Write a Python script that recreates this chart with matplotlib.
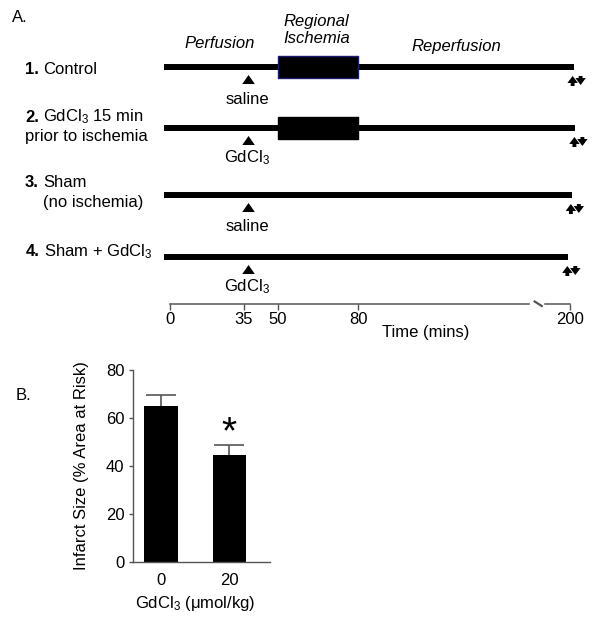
import numpy as np
import matplotlib
matplotlib.use("Agg")
import matplotlib.pyplot as plt

# Arial-like text everywhere, also inside the GdCl$_3$ subscripts
plt.rcParams["font.family"] = ["Liberation Sans", "DejaVu Sans"]
plt.rcParams["mathtext.fontset"] = "custom"
plt.rcParams["mathtext.rm"] = "Liberation Sans"
plt.rcParams["mathtext.it"] = "Liberation Sans:italic"
plt.rcParams["mathtext.bf"] = "Liberation Sans:bold"

# ---- panel A: protocol timeline ----
row_numbers = ["1.", "2.", "3.", "4."]
row_names = ["Control", "GdCl$_3$ 15 min", "Sham", "Sham + GdCl$_3$"]
row_notes = ["", "prior to ischemia", "(no ischemia)", ""]
row_end = [202, 203, 201, 199]            # minutes, where each drawn line stops
row_ischemia = [True, True, False, False]
injection = ["saline", "GdCl$_3$", "saline", "GdCl$_3$"]
injection_time = 37
line_start = -3
ischemia_span = (50, 80)
time_ticks = [0, 35, 50, 80, 200]
axis_break = (177, 186)

# ---- panel B: infarct size ----
doses = ["0", "20"]
infarct = [65, 44.6]
infarct_sem = [4.6, 4.2]

W, H = 600, 623
fig = plt.figure(figsize=(W / 100, H / 100), dpi=100)


def fpos(x, y):
  # pixel position (from top left) -> figure fraction
  return x / W, 1 - y / H


# the drawn time axis is not linear (it has a break), so use a piecewise scale
scale_t = [-100, 0, 35, 50, 80, 200, 300]
scale_px = [-41.4, 170, 244, 278, 358, 570, 746.7]


def fwd(t):
  return np.interp(t, scale_t, scale_px)


def inv(p):
  return np.interp(p, scale_px, scale_t)


def arrow(ax, x, y_from, y_to, size=10, hw=0.75, tw=0.28):
  ax.annotate("", xy=(x, y_to), xytext=(x, y_from),
              arrowprops=dict(arrowstyle=f"simple,head_length=0.5,head_width={hw},tail_width={tw}",
                              color="black", lw=0, shrinkA=0, shrinkB=0, mutation_scale=size))


axis_y = 304
ax_a = fig.add_axes([0, 1 - axis_y / H, 1, axis_y / H])
ax_a.set_xscale("function", functions=(fwd, inv))
ax_a.set_xlim(inv(0), inv(W))
ax_a.set_ylim(axis_y, 0)
for s in ax_a.spines.values():
  s.set_visible(False)
ax_a.set_yticks([])
ax_a.set_xticks(time_ticks)
ax_a.set_xticklabels([str(t) for t in time_ticks])
ax_a.tick_params(axis="x", direction="out", length=4, width=1, color="#555555", labelsize=12, pad=2)

# axis line with the break
ax_a.plot([0, axis_break[0]], [axis_y, axis_y], color="#555555", lw=1.1, clip_on=False)
ax_a.plot([axis_break[1], 200], [axis_y, axis_y], color="#555555", lw=1.1, clip_on=False)
ax_a.plot([axis_break[0] + 3, axis_break[0] + 7], [axis_y - 2.5, axis_y + 2], color="#555555", lw=1.6, clip_on=False)

row_y = [67, 128, 195, 257]
label_y = [100, 158, 227, 287]
for i in range(4):
  y = row_y[i]
  ax_a.plot([line_start, row_end[i]], [y, y], color="black", lw=4.3, solid_capstyle="butt")
  if row_ischemia[i]:
    edge = "#1c1c6e" if i == 0 else "black"
    ax_a.broken_barh([(ischemia_span[0], ischemia_span[1] - ischemia_span[0])], (y - 11, 22),
                     facecolor="black", edgecolor=edge, lw=1, zorder=3)
  # injection arrow and label
  arrow(ax_a, injection_time, y + 17, y + 8, size=13, hw=0.7, tw=0.3)
  ax_a.text(injection_time - 0.5, label_y[i], injection[i], ha="center", va="center", fontsize=12)
  # up / down arrows at the end of the protocol
  e = row_end[i]
  arrow(ax_a, e - 0.5, y + 19, y + 9, size=10)
  arrow(ax_a, e + 4, y + 9, y + 18, size=10)

# phase titles
fig.text(*fpos(220, 44), "Perfusion", style="italic", fontsize=12, ha="center", va="center")
fig.text(*fpos(283, 30), "Regional\nIschemia", style="italic", fontsize=12, ha="left", va="center",
         linespacing=1.2)
fig.text(*fpos(456, 46), "Reperfusion", style="italic", fontsize=12, ha="center", va="center")

# row labels
label_top = [69, 117, 183, 252]
num_x = [25, 25, 25, 26]
note_x = [25, 25, 43, 25]
for i in range(4):
  fig.text(*fpos(num_x[i], label_top[i]), row_numbers[i], fontsize=12, fontweight="bold", va="center")
  fig.text(*fpos(num_x[i] + 18, label_top[i]), row_names[i], fontsize=12, va="center")
  if row_notes[i]:
    fig.text(*fpos(note_x[i], label_top[i] + 20), row_notes[i], fontsize=12, va="center")

fig.text(*fpos(426, 333), "Time (mins)", fontsize=12, ha="center", va="center")
fig.text(*fpos(12, 18), "A.", fontsize=12, va="center")
fig.text(*fpos(16, 396), "B.", fontsize=12, va="center")

# ---- panel B ----
left, right, bottom, top = 132.7, 270, 562, 370
ax_b = fig.add_axes([left / W, 1 - bottom / H, (right - left) / W, (bottom - top) / H])
x = np.arange(len(doses))
ax_b.bar(x, infarct, width=0.49, color="black")
eb = ax_b.errorbar(x, infarct, yerr=[np.zeros(len(x)), infarct_sem], fmt="none", ecolor="#555555",
                   elinewidth=1.2, capsize=11, capthick=1.2)
eb[1][0].set_visible(False)   # only the upper caps
ax_b.text(1, infarct[1] + infarct_sem[1] + 5, "*", fontsize=28, ha="center", va="center")
ax_b.set_xlim(-0.41, 1.59)
ax_b.set_ylim(0, 80)
ax_b.set_yticks([0, 20, 40, 60, 80])
ax_b.set_xticks(x)
ax_b.set_xticklabels(doses)
ax_b.spines["top"].set_visible(False)
ax_b.spines["right"].set_visible(False)
for s in ["left", "bottom"]:
  ax_b.spines[s].set_color("#555555")
  ax_b.spines[s].set_linewidth(1)
ax_b.tick_params(axis="y", direction="out", length=3, width=1, color="#555555", labelsize=12, pad=3)
ax_b.tick_params(axis="x", length=0, labelsize=12, pad=8)
ax_b.set_ylabel("Infarct Size (% Area at Risk)", fontsize=12)
ax_b.yaxis.set_label_coords((89 - left) / (right - left), 0.5)
ax_b.set_xlabel("GdCl$_3$ (μmol/kg)", fontsize=12)
ax_b.xaxis.set_label_coords((195 - left) / (right - left), -(594 - bottom) / (bottom - top))

fig.savefig("out.png", dpi=100)
